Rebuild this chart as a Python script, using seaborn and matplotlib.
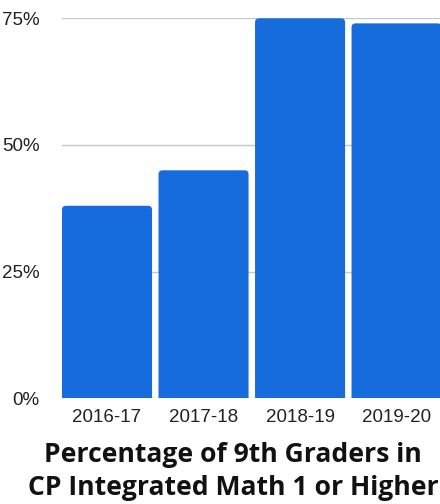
import matplotlib
matplotlib.use("Agg")
import matplotlib.pyplot as plt
import seaborn as sns
import pandas as pd
from matplotlib.patches import FancyBboxPatch

anios = ["2016-17", "2017-18", "2018-19", "2019-20"]
porcentajes = [38, 45, 75, 74]
ticks_y = [0, 25, 50, 75]
etiquetas_y = ["0%", "25%", "50%", "75%"]
titulo = ["Percentage of 9th Graders in", "CP Integrated Math 1 or Higher"]

sns.set_style("white")
plt.rcParams["font.family"] = ["Liberation Sans", "DejaVu Sans"]

df = pd.DataFrame({"anio": anios, "pct": porcentajes})

fig = plt.figure(figsize=(4.4, 5.04), dpi=100)
ax = fig.add_axes([62 / 440, 1 - 398.3 / 504, 1 - 62 / 440, 380 / 504])

sns.barplot(data=df, x="anio", y="pct", color="#166cdd", saturation=1, width=0.933, ax=ax)

# barras con esquinas superiores redondeadas
r = 0.042
aspecto = 0.8 / r
for p in list(ax.patches):
    x, w, h = p.get_x(), p.get_width(), p.get_height()
    nueva = FancyBboxPatch((x, -5), w, h + 5,
                           boxstyle=f"round,pad=0,rounding_size={r}",
                           mutation_aspect=aspecto,
                           facecolor="#166cdd", edgecolor="none", zorder=2)
    p.remove()
    ax.add_patch(nueva)

ax.set_ylim(0, 75)
ax.set_xlim(-0.4665, 3.45)
ax.set_yticks(ticks_y)
ax.set_yticklabels(etiquetas_y)
ax.yaxis.grid(True, color="#c8c8c8", linewidth=1)
ax.set_axisbelow(True)
ax.tick_params(axis="y", length=0, pad=16, labelsize=13.5, colors="#222222")
ax.tick_params(axis="x", length=0, pad=8, labelsize=13.5, colors="#222222")
ax.set_xlabel("")
ax.set_ylabel("")
sns.despine(ax=ax, left=True, bottom=True, right=True, top=True)

# titulo abajo, una linea por texto
for linea, base in zip(titulo, [462, 495]):
    fig.text(233 / 440, 1 - base / 504, linea, ha="center", va="baseline",
             fontsize=19.1, fontweight="bold",
             family=["Open Sans", "DejaVu Sans"], color="#111111")

fig.savefig("out.png", dpi=100)
